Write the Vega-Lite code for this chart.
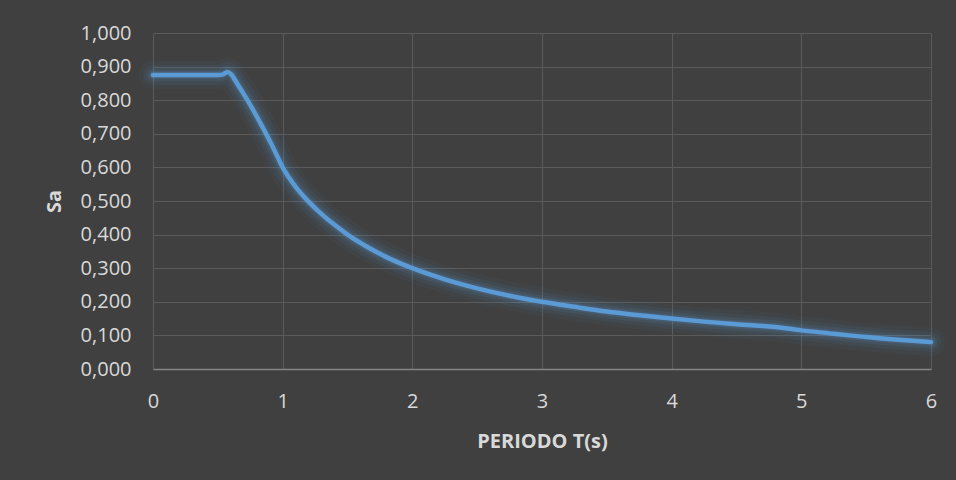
{
  "$schema": "https://vega.github.io/schema/vega-lite/v6.json",
  "width": 778,
  "height": 336,
  "autosize": "none",
  "padding": {"left": 153, "top": 33, "right": 25, "bottom": 111},
  "background": "#404040",
  "config": {
    "view": {"stroke": null},
    "font": "Open Sans"
  },
  "data": {
    "values": [
      {"T": 0, "Sa": 0.875},
      {"T": 0.1, "Sa": 0.875},
      {"T": 0.2, "Sa": 0.875},
      {"T": 0.3, "Sa": 0.875},
      {"T": 0.4, "Sa": 0.875},
      {"T": 0.5, "Sa": 0.875},
      {"T": 0.54, "Sa": 0.877},
      {"T": 0.575, "Sa": 0.884},
      {"T": 0.6, "Sa": 0.878},
      {"T": 0.65, "Sa": 0.849},
      {"T": 0.7, "Sa": 0.818},
      {"T": 0.75, "Sa": 0.786},
      {"T": 0.8, "Sa": 0.752},
      {"T": 0.85, "Sa": 0.716},
      {"T": 0.9, "Sa": 0.679},
      {"T": 0.95, "Sa": 0.64},
      {"T": 1.0, "Sa": 0.6},
      {"T": 1.05, "Sa": 0.569},
      {"T": 1.1, "Sa": 0.542},
      {"T": 1.2, "Sa": 0.498},
      {"T": 1.3, "Sa": 0.461},
      {"T": 1.4, "Sa": 0.429},
      {"T": 1.5, "Sa": 0.4},
      {"T": 1.65, "Sa": 0.364},
      {"T": 1.8, "Sa": 0.333},
      {"T": 2.0, "Sa": 0.3},
      {"T": 2.25, "Sa": 0.267},
      {"T": 2.5, "Sa": 0.24},
      {"T": 2.75, "Sa": 0.218},
      {"T": 3.0, "Sa": 0.2},
      {"T": 3.25, "Sa": 0.185},
      {"T": 3.5, "Sa": 0.171},
      {"T": 3.75, "Sa": 0.16},
      {"T": 4.0, "Sa": 0.15},
      {"T": 4.25, "Sa": 0.141},
      {"T": 4.5, "Sa": 0.133},
      {"T": 4.8, "Sa": 0.125},
      {"T": 5.0, "Sa": 0.115},
      {"T": 5.25, "Sa": 0.105},
      {"T": 5.5, "Sa": 0.095},
      {"T": 5.75, "Sa": 0.087},
      {"T": 6.0, "Sa": 0.08}
    ]
  },
  "encoding": {
    "x": {
      "field": "T",
      "type": "quantitative",
      "scale": {"domain": [0, 6], "nice": false},
      "axis": {
        "title": "PERIODO T(s)",
        "values": [0, 1, 2, 3, 4, 5, 6],
        "labelExpr": "format(datum.value, 'd')",
        "grid": true,
        "gridColor": "#5a5a5a",
        "gridWidth": 1,
        "ticks": false,
        "domain": true,
        "domainColor": "#858585",
        "domainWidth": 1.5,
        "labelColor": "#d9d9d9",
        "labelFontSize": 20,
        "labelPadding": 22,
        "labelFlush": false,
        "titleColor": "#d9d9d9",
        "titleFontSize": 20,
        "titleFontWeight": "bold",
        "titlePadding": 20
      }
    },
    "y": {
      "field": "Sa",
      "type": "quantitative",
      "scale": {"domain": [0, 1], "nice": false},
      "axis": {
        "title": "Sa",
        "values": [0, 0.1, 0.2, 0.3, 0.4, 0.5, 0.6, 0.7, 0.8, 0.9, 1.0],
        "labelExpr": "replace(format(datum.value, '.3f'), '.', ',')",
        "grid": true,
        "gridColor": "#5a5a5a",
        "gridWidth": 1,
        "ticks": false,
        "domain": false,
        "labelColor": "#d9d9d9",
        "labelFontSize": 20,
        "labelPadding": 22,
        "labelFlush": false,
        "titleColor": "#d9d9d9",
        "titleFontSize": 20,
        "titleFontWeight": "bold",
        "titlePadding": 16
      }
    }
  },
  "layer": [
    {
      "mark": {"type": "line", "interpolate": "monotone", "color": "#5b9bd5", "strokeWidth": 28, "opacity": 0.05, "strokeCap": "round"}
    },
    {
      "mark": {"type": "line", "interpolate": "monotone", "color": "#5b9bd5", "strokeWidth": 20, "opacity": 0.07, "strokeCap": "round"}
    },
    {
      "mark": {"type": "line", "interpolate": "monotone", "color": "#5b9bd5", "strokeWidth": 13, "opacity": 0.1, "strokeCap": "round"}
    },
    {
      "mark": {"type": "line", "interpolate": "monotone", "color": "#5b9bd5", "strokeWidth": 8, "opacity": 0.15, "strokeCap": "round"}
    },
    {
      "mark": {"type": "line", "interpolate": "monotone", "color": "#5b9bd5", "strokeWidth": 4.5, "strokeCap": "round", "strokeJoin": "round"}
    }
  ]
}
